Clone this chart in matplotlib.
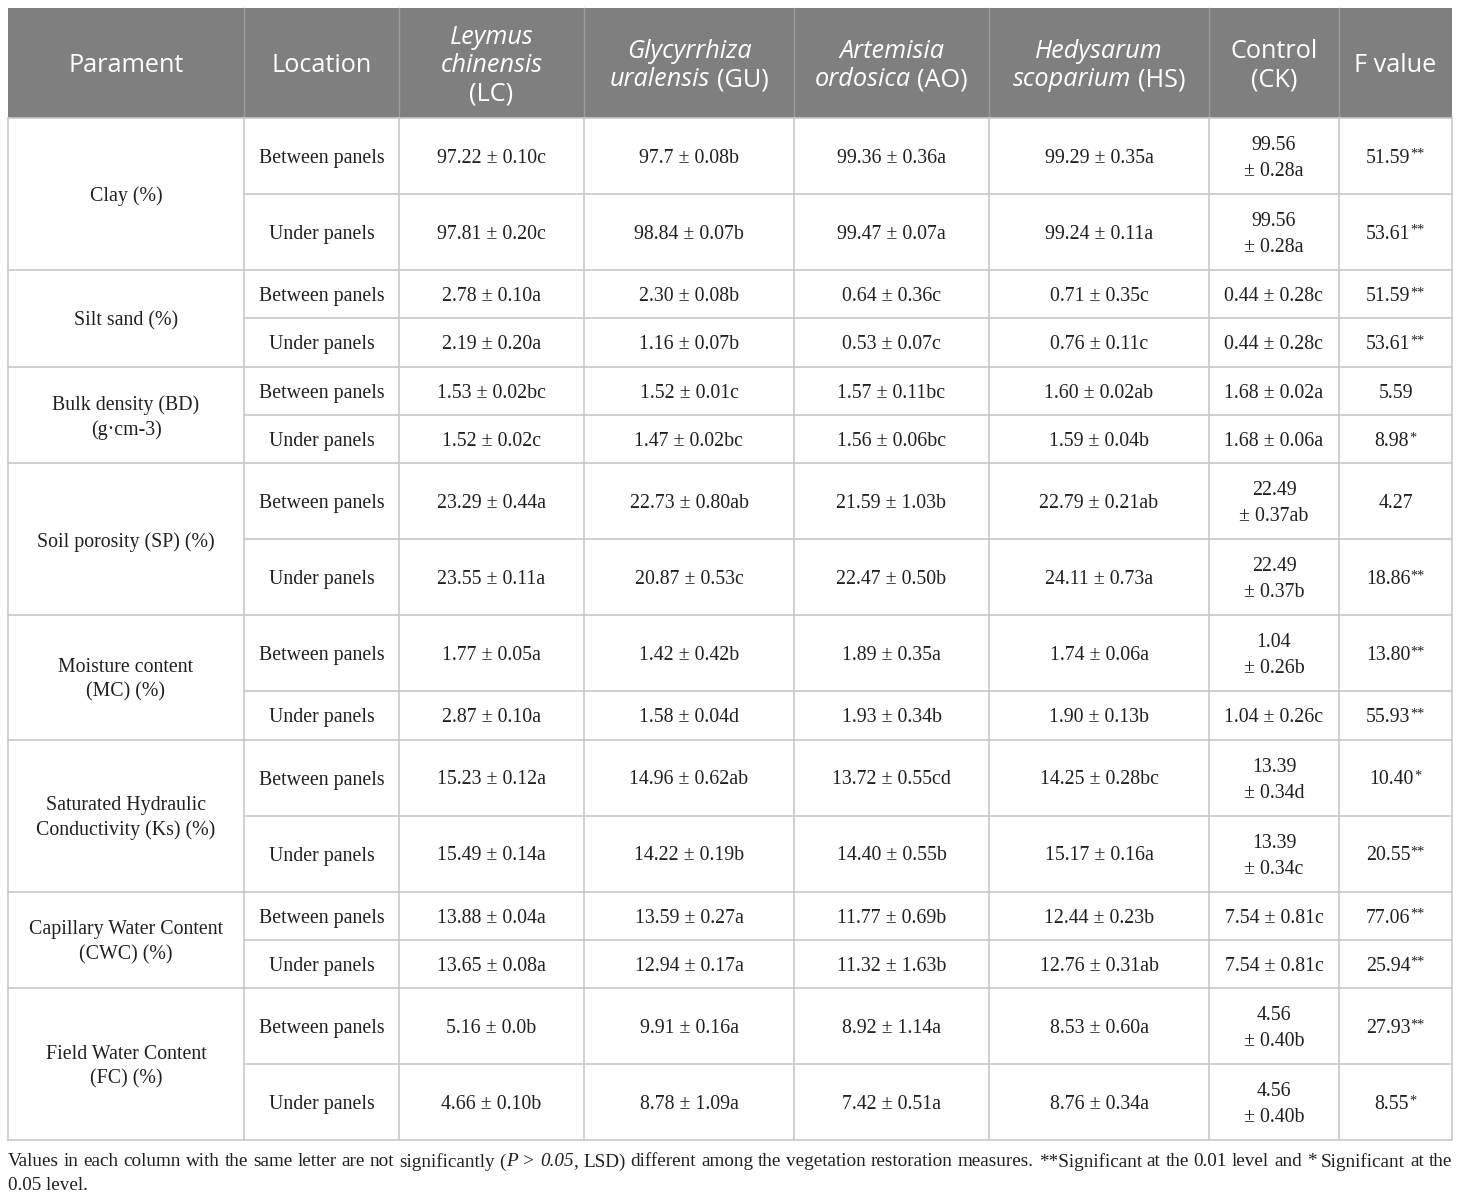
import matplotlib
matplotlib.use("Agg")
import matplotlib.pyplot as plt

# ---------------- data ----------------
parameters = ["Clay (%)", "Silt sand (%)", "Bulk density (BD)\n(g·cm-3)",
              "Soil porosity (SP) (%)", "Moisture content\n(MC) (%)",
              "Saturated Hydraulic\nConductivity (Ks) (%)",
              "Capillary Water Content\n(CWC) (%)", "Field Water Content\n(FC) (%)"]
locations = ["Between panels", "Under panels"]

lc_values = ["97.22 ± 0.10c", "97.81 ± 0.20c", "2.78 ± 0.10a", "2.19 ± 0.20a",
             "1.53 ± 0.02bc", "1.52 ± 0.02c", "23.29 ± 0.44a", "23.55 ± 0.11a",
             "1.77 ± 0.05a", "2.87 ± 0.10a", "15.23 ± 0.12a", "15.49 ± 0.14a",
             "13.88 ± 0.04a", "13.65 ± 0.08a", "5.16 ± 0.0b", "4.66 ± 0.10b"]
gu_values = ["97.7 ± 0.08b", "98.84 ± 0.07b", "2.30 ± 0.08b", "1.16 ± 0.07b",
             "1.52 ± 0.01c", "1.47 ± 0.02bc", "22.73 ± 0.80ab", "20.87 ± 0.53c",
             "1.42 ± 0.42b", "1.58 ± 0.04d", "14.96 ± 0.62ab", "14.22 ± 0.19b",
             "13.59 ± 0.27a", "12.94 ± 0.17a", "9.91 ± 0.16a", "8.78 ± 1.09a"]
ao_values = ["99.36 ± 0.36a", "99.47 ± 0.07a", "0.64 ± 0.36c", "0.53 ± 0.07c",
             "1.57 ± 0.11bc", "1.56 ± 0.06bc", "21.59 ± 1.03b", "22.47 ± 0.50b",
             "1.89 ± 0.35a", "1.93 ± 0.34b", "13.72 ± 0.55cd", "14.40 ± 0.55b",
             "11.77 ± 0.69b", "11.32 ± 1.63b", "8.92 ± 1.14a", "7.42 ± 0.51a"]
hs_values = ["99.29 ± 0.35a", "99.24 ± 0.11a", "0.71 ± 0.35c", "0.76 ± 0.11c",
             "1.60 ± 0.02ab", "1.59 ± 0.04b", "22.79 ± 0.21ab", "24.11 ± 0.73a",
             "1.74 ± 0.06a", "1.90 ± 0.13b", "14.25 ± 0.28bc", "15.17 ± 0.16a",
             "12.44 ± 0.23b", "12.76 ± 0.31ab", "8.53 ± 0.60a", "8.76 ± 0.34a"]
ck_values = ["99.56\n± 0.28a", "99.56\n± 0.28a", "0.44 ± 0.28c", "0.44 ± 0.28c",
             "1.68 ± 0.02a", "1.68 ± 0.06a", "22.49\n± 0.37ab", "22.49\n± 0.37b",
             "1.04\n± 0.26b", "1.04 ± 0.26c", "13.39\n± 0.34d", "13.39\n± 0.34c",
             "7.54 ± 0.81c", "7.54 ± 0.81c", "4.56\n± 0.40b", "4.56\n± 0.40b"]
f_values = ["51.59**", "53.61**", "51.59**", "53.61**", "5.59", "8.98*",
            "4.27", "18.86**", "13.80**", "55.93**", "10.40*", "20.55**",
            "77.06**", "25.94**", "27.93**", "8.55*"]

# header lines: list of lines, each line a list of (text, italic)
headers = [
    [[("Parament", False)]],
    [[("Location", False)]],
    [[("Leymus", True)], [("chinensis", True)], [("(LC)", False)]],
    [[("Glycyrrhiza", True)], [("uralensis", True), ("(GU)", False)]],
    [[("Artemisia", True)], [("ordosica", True), ("(AO)", False)]],
    [[("Hedysarum", True)], [("scoparium", True), ("(HS)", False)]],
    [[("Control", False)], [("(CK)", False)]],
    [[("F value", False)]],
]

footnote_line1 = [
    [("Values", False)], [("in", False)], [("each", False)], [("column", False)],
    [("with", False)], [("the", False)], [("same", False)], [("letter", False)],
    [("are", False)], [("not", False)], [("significantly", False)],
    [("(", False), ("P", True)], [(">", True)], [("0.05", True), (",", False)],
    [("LSD)", False)], [("different", False)], [("among", False)], [("the", False)],
    [("vegetation", False)], [("restoration", False)], [("measures.", False)],
    [("**Significant", False)], [("at", False)], [("the", False)], [("0.01", False)],
    [("level", False)], [("and", False)], [("*", False)], [("Significant", False)],
    [("at", False)], [("the", False)]]
footnote_line2 = "0.05 level."

# ---------------- layout ----------------
W, H = 1460, 1197
fig = plt.figure(figsize=(W / 100, H / 100), dpi=100)
ax = fig.add_axes([0, 0, 1, 1])
ax.set_xlim(0, W)
ax.set_ylim(H, 0)
ax.axis("off")
renderer = fig.canvas.get_renderer()

HEAD_FONT = "Open Sans"
BODY_FONT = "Liberation Serif"
HEAD_SIZE = 18.2
BODY_SIZE = 14.3
FOOT_SIZE = 13.8
TEXT_COLOR = "#231f20"
GRID = "#c8c8c8"
HEAD_BG = "#7f7f7f"

col_x = [8, 244, 399, 584, 794, 989, 1209, 1339, 1452]
top, head_bottom = 8, 118
h2, h1 = 76.0, 48.3

columns = [lc_values, gu_values, ao_values, hs_values, ck_values, f_values]
nrows = len(lc_values)
row_h = []
for i in range(nrows):
    two = any("\n" in c[i] for c in columns)
    row_h.append(h2 if two else h1)
row_y = [head_bottom]
for hh in row_h:
    row_y.append(row_y[-1] + hh)
bottom = row_y[-1]


def width_of(s, **kw):
    t = ax.text(0, 0, s, **kw)
    w = t.get_window_extent(renderer).width
    t.remove()
    return w


def draw_segments(cx, y, segs, size, family, color, ha="center"):
    kw = dict(fontsize=size, family=family)
    sp = width_of("a a", **kw) - width_of("aa", **kw)
    widths = [width_of(s, style="italic" if it else "normal", **kw) for s, it in segs]
    total = sum(widths) + sp * (len(segs) - 1)
    x = cx - total / 2 if ha == "center" else cx
    for (s, it), w in zip(segs, widths):
        ax.text(x, y, s, fontsize=size, family=family, color=color,
                style="italic" if it else "normal", ha="left", va="center_baseline")
        x += w + sp


# header background
ax.add_patch(plt.Rectangle((col_x[0], top), col_x[-1] - col_x[0], head_bottom - top,
                           facecolor=HEAD_BG, edgecolor="none", zorder=0))
for x in col_x[1:-1]:
    ax.plot([x, x], [top, head_bottom], color="#9c9c9c", lw=1.0, zorder=1)

head_mid = (top + head_bottom) / 2
line_gap = 28
for j, lines in enumerate(headers):
    cx = (col_x[j] + col_x[j + 1]) / 2
    n = len(lines)
    for k, segs in enumerate(lines):
        y = head_mid + (k - (n - 1) / 2) * line_gap
        if len(segs) == 1:
            s, it = segs[0]
            ax.text(cx, y, s, fontsize=HEAD_SIZE, family=HEAD_FONT, color="white",
                    style="italic" if it else "normal", ha="center", va="center_baseline")
        else:
            draw_segments(cx, y, segs, HEAD_SIZE, HEAD_FONT, "white")

# body grid
lw = 1.2
for i, y in enumerate(row_y):
    x0 = col_x[0] if i % 2 == 0 else col_x[1]
    ax.plot([x0, col_x[-1]], [y, y], color=GRID, lw=lw, zorder=1)
for x in col_x:
    ax.plot([x, x], [head_bottom, bottom], color=GRID, lw=lw, zorder=1)

body_gap = 26


def draw_cell(cx, cy, txt, gap=body_gap):
    lines = txt.split("\n")
    n = len(lines)
    for k, s in enumerate(lines):
        y = cy + (k - (n - 1) / 2) * gap
        ax.text(cx, y, s, fontsize=BODY_SIZE, family=BODY_FONT, color=TEXT_COLOR,
                ha="center", va="center_baseline")


def draw_fvalue(cx, cy, txt):
    num = txt.rstrip("*")
    stars = txt[len(num):]
    kw = dict(fontsize=BODY_SIZE, family=BODY_FONT)
    wn = width_of(num, **kw)
    skw = dict(fontsize=BODY_SIZE * 0.72, family=BODY_FONT)
    ws = width_of(stars, **skw) if stars else 0
    x0 = cx - (wn + ws) / 2
    ax.text(x0, cy, num, color=TEXT_COLOR, ha="left", va="center_baseline", **kw)
    if stars:
        ax.text(x0 + wn, cy - 3, stars, color=TEXT_COLOR, ha="left",
                va="center_baseline", **skw)


# parameter column (merged cells)
for p, name in enumerate(parameters):
    cy = (row_y[2 * p] + row_y[2 * p + 2]) / 2
    draw_cell((col_x[0] + col_x[1]) / 2, cy, name, gap=25)

for i in range(nrows):
    cy = (row_y[i] + row_y[i + 1]) / 2
    draw_cell((col_x[1] + col_x[2]) / 2, cy, locations[i % 2])
    for j, col in enumerate(columns[:-1]):
        draw_cell((col_x[j + 2] + col_x[j + 3]) / 2, cy, col[i])
    draw_fvalue((col_x[7] + col_x[8]) / 2, cy, f_values[i])

# footnote (justified first line)
fkw = dict(fontsize=FOOT_SIZE, family=BODY_FONT)
word_w = []
for word in footnote_line1:
    word_w.append([width_of(s, style="italic" if it else "normal", **fkw) for s, it in word])
tot = sum(sum(w) for w in word_w)
gap = (col_x[-1] - col_x[0] - tot) / (len(footnote_line1) - 1)
x = col_x[0]
y1 = 1160
for word, ws in zip(footnote_line1, word_w):
    for (s, it), w in zip(word, ws):
        ax.text(x, y1, s, color=TEXT_COLOR, style="italic" if it else "normal",
                ha="left", va="center_baseline", **fkw)
        x += w
    x += gap
ax.text(col_x[0], 1183, footnote_line2, color=TEXT_COLOR, ha="left",
        va="center_baseline", **fkw)

fig.savefig("out.png", dpi=100, facecolor="white")
